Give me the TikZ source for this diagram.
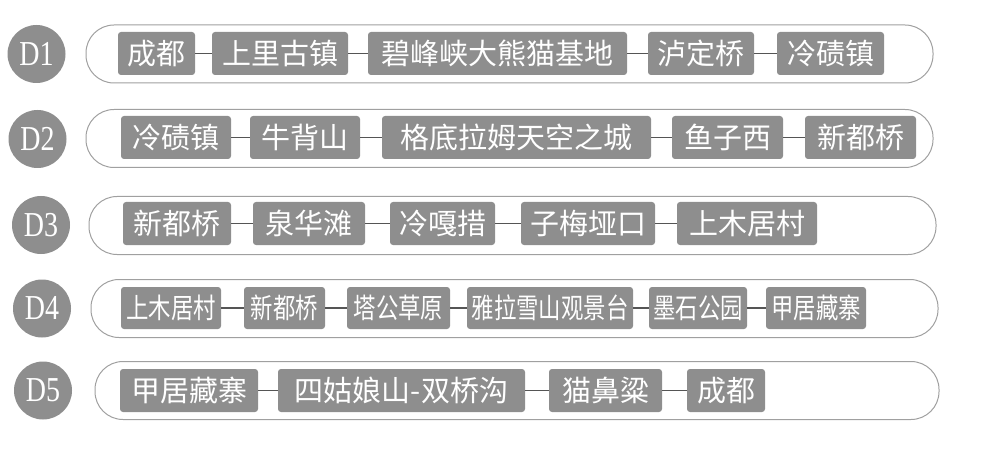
\documentclass[tikz,border=0pt]{standalone}
\usepackage{fontspec}
\setmainfont{Liberation Serif}
\newfontfamily\cjk{Noto Sans CJK SC}
\definecolor{boxgray}{RGB}{142,142,142}
\definecolor{rimgray}{RGB}{160,160,160}
\definecolor{linkgray}{RGB}{85,85,85}
\newcommand\slim[1]{\scalebox{0.8}[1]{#1}}
\begin{document}
\begin{tikzpicture}[
            x = 1pt, y = -1pt,
            day/.style = {circle, fill=boxgray, text=white, inner sep = 0pt, minimum size = 58pt, font=\fontsize{35}{35}\selectfont},
            bar/.style = {draw=rimgray, line width = 1pt, rounded corners = 28pt, minimum height = 58pt, inner sep = 0pt},
            stop/.style = {fill=boxgray, text=white, rounded corners = 3pt, minimum height = 43pt, inner sep = 0pt, font=\cjk\fontsize{29}{29}\selectfont},
            slimstop/.style = {stop, minimum height = 42pt, font=\cjk\fontsize{28}{28}\selectfont},
            link/.style = {draw=linkgray, line width = 1.2pt},
        ]
        \useasboundingbox (0,0) rectangle (1006,449);

        \node (bar1) [bar, minimum width = 847pt] at (509.5, 54){};
        \node (bar2) [bar, minimum width = 847pt] at (509.5, 138.5){};
        \node (bar3) [bar, minimum width = 847pt] at (512.5, 225.5){};
        \node (bar4) [bar, minimum width = 847pt] at (514.5, 308.5){};
        \node (bar5) [bar, minimum width = 844pt] at (517, 390.5){};

        \node (day1) [day] at (36.5, 54){\slim{D1}};
        \node (day2) [day] at (37.5, 139){\slim{D2}};
        \node (day3) [day] at (41, 225){\slim{D3}};
        \node (day4) [day] at (42, 308.5){\slim{D4}};
        \node (day5) [day] at (43, 390.5){\slim{D5}};

        \node (a1) [stop, minimum width = 77pt] at (156.5, 53.5){成都};
        \node (a2) [stop, minimum width = 136pt] at (280, 53.5){上里古镇};
        \node (a3) [stop, minimum width = 259pt] at (497.5, 53.5){碧峰峡大熊猫基地};
        \node (a4) [stop, minimum width = 106pt] at (701, 53.5){泸定桥};
        \node (a5) [stop, minimum width = 107pt] at (830.5, 53.5){冷碛镇};

        \node (b1) [stop, minimum width = 110pt] at (176, 137.5){冷碛镇};
        \node (b2) [stop, minimum width = 110pt] at (305, 137.5){牛背山};
        \node (b3) [stop, minimum width = 269pt] at (516.5, 137.5){格底拉姆天空之城};
        \node (b4) [stop, minimum width = 111pt] at (727.5, 137.5){鱼子西};
        \node (b5) [stop, minimum width = 111pt] at (860.5, 137.5){新都桥};

        \node (c1) [stop, minimum width = 108pt] at (177, 223.5){新都桥};
        \node (c2) [stop, minimum width = 112pt] at (309, 223.5){泉华滩};
        \node (c3) [stop, minimum width = 105pt] at (442.5, 223.5){冷嘎措};
        \node (c4) [stop, minimum width = 134pt] at (588, 223.5){子梅垭口};
        \node (c5) [stop, minimum width = 140pt] at (747, 223.5){上木居村};

        \node (d1) [slimstop, minimum width = 100pt] at (171, 308){\slim{上木居村}};
        \node (d2) [slimstop, minimum width = 81pt] at (284.5, 308){\slim{新都桥}};
        \node (d3) [slimstop, minimum width = 103pt] at (398.5, 308){\slim{塔公草原}};
        \node (d4) [slimstop, minimum width = 166pt] at (550, 308){\slim{雅拉雪山观景台}};
        \node (d5) [slimstop, minimum width = 98pt] at (698, 308){\slim{墨石公园}};
        \node (d6) [slimstop, minimum width = 100pt] at (816, 308){\slim{甲居藏寨}};

        \node (e1) [stop, minimum width = 138pt] at (189, 390.5){甲居藏寨};
        \node (e2) [stop, minimum width = 247pt] at (401.5, 390.5){四姑娘山-双桥沟};
        \node (e3) [stop, minimum width = 113pt] at (605.5, 390.5){猫鼻粱};
        \node (e4) [stop, minimum width = 78pt] at (726, 390.5){成都};

        \path[link] (a1) -- (a2);
        \path[link] (a2) -- (a3);
        \path[link] (a3) -- (a4);
        \path[link] (a4) -- (a5);

        \path[link] (b1) -- (b2);
        \path[link] (b2) -- (b3);
        \path[link] (b3) -- (b4);
        \path[link] (b4) -- (b5);

        \path[link] (c1) -- (c2);
        \path[link] (c2) -- (c3);
        \path[link] (c3) -- (c4);
        \path[link] (c4) -- (c5);

        \path[link] (d1) -- (d2);
        \path[link] (d2) -- (d3);
        \path[link] (d3) -- (d4);
        \path[link] (d4) -- (d5);
        \path[link] (d5) -- (d6);

        \path[link] (e1) -- (e2);
        \path[link] (e2) -- (e3);
        \path[link] (e3) -- (e4);
    \end{tikzpicture}
\end{document}
